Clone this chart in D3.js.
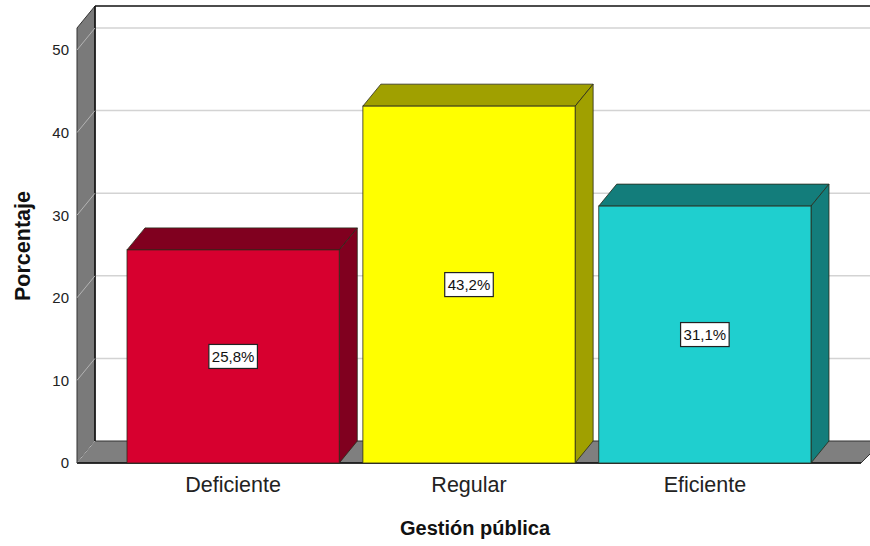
<!DOCTYPE html>
<html>
<head>
<meta charset="utf-8">
<script src="https://cdn.jsdelivr.net/npm/d3@7"></script>
<style>
  body { margin: 0; background: #fff; }
  svg { font-family: "Liberation Sans", Arial, sans-serif; }
</style>
</head>
<body>
<svg id="chart" width="870" height="546"></svg>
<script>
// data
var categories = ["Deficiente", "Regular", "Eficiente"];
var percents = [25.8, 43.2, 31.1];
var labels = ["25,8%", "43,2%", "31,1%"];
var yTicks = [0, 10, 20, 30, 40, 50];
var frontColors = ["#d7002f", "#ffff00", "#1fcfcf"];
var darkColors = ["#80001f", "#a0a000", "#137d7b"];

var svg = d3.select("#chart");

// front plane and depth offset
var left = 77, right = 861, bottom = 463;
var dx = 18, dy = -22;
var topFront = 28; // top of walls on the front plane

var x = d3.scaleBand()
    .domain(categories)
    .range([left, right])
    .paddingInner(0.1)
    .paddingOuter(0.212);

var y = d3.scaleLinear()
    .domain([0, 50])
    .range([bottom, 50]);

// back wall
svg.append("rect")
    .attr("x", left + dx)
    .attr("y", topFront + dy)
    .attr("width", 900)
    .attr("height", bottom - topFront)
    .attr("fill", "#fff");

// gridlines on back wall
svg.selectAll(".grid")
    .data(yTicks.filter(d => d > 0))
    .enter().append("line")
    .attr("x1", left + dx)
    .attr("x2", 900)
    .attr("y1", d => y(d) + dy)
    .attr("y2", d => y(d) + dy)
    .attr("stroke", "#d3d3d3")
    .attr("stroke-width", 1.5);

// back wall top edge
svg.append("line")
    .attr("x1", left + dx).attr("x2", 900)
    .attr("y1", topFront + dy).attr("y2", topFront + dy)
    .attr("stroke", "#111").attr("stroke-width", 1.5);

// left wall
svg.append("polygon")
    .attr("points", [[left, topFront], [left + dx, topFront + dy], [left + dx, bottom + dy], [left, bottom]].join(" "))
    .attr("fill", "#7a7a7a")
    .attr("stroke", "#333")
    .attr("stroke-width", 1);

// floor
svg.append("polygon")
    .attr("points", [[left, bottom], [left + dx, bottom + dy], [right + dx + 4, bottom + dy], [right, bottom]].join(" "))
    .attr("fill", "#7f7f7f")
    .attr("stroke", "#333")
    .attr("stroke-width", 1);

// back wall left edge
svg.append("line")
    .attr("x1", left + dx).attr("x2", left + dx)
    .attr("y1", topFront + dy).attr("y2", bottom + dy)
    .attr("stroke", "#111").attr("stroke-width", 1.5);

// gridlines across the left wall
svg.selectAll(".wallgrid")
    .data(yTicks)
    .enter().append("line")
    .attr("x1", left).attr("y1", d => y(d))
    .attr("x2", left + dx).attr("y2", d => y(d) + dy)
    .attr("stroke", "#b4b4b4")
    .attr("stroke-width", 1);

// floor front edge
svg.append("line")
    .attr("x1", left).attr("x2", right)
    .attr("y1", bottom).attr("y2", bottom)
    .attr("stroke", "#111").attr("stroke-width", 1.5);

// bars
var bars = svg.selectAll(".bar")
    .data(categories)
    .enter().append("g")
    .attr("class", "bar");

bars.each(function (c, i) {
    var g = d3.select(this);
    var x0 = x(c), w = x.bandwidth();
    var yv = y(percents[i]), y0 = y(0);

    g.append("polygon")
        .attr("points", [[x0, yv], [x0 + dx, yv + dy], [x0 + w + dx, yv + dy], [x0 + w, yv]].join(" "))
        .attr("fill", darkColors[i])
        .attr("stroke", "#2a2a1a").attr("stroke-width", 1).attr("stroke-linejoin", "round")
        .attr("stroke-opacity", 0.8);

    g.append("polygon")
        .attr("points", [[x0 + w, yv], [x0 + w + dx, yv + dy], [x0 + w + dx, y0 + dy], [x0 + w, y0]].join(" "))
        .attr("fill", darkColors[i])
        .attr("stroke", "#2a2a1a").attr("stroke-width", 1).attr("stroke-linejoin", "round")
        .attr("stroke-opacity", 0.8);

    g.append("rect")
        .attr("x", x0).attr("y", yv)
        .attr("width", w).attr("height", y0 - yv)
        .attr("fill", frontColors[i])
        .attr("stroke", "#2a2a1a").attr("stroke-width", 1)
        .attr("stroke-opacity", 0.8);

    // value label box
    var cx = x0 + w / 2, cy = (yv + y0) / 2;
    var t = g.append("text")
        .attr("x", cx).attr("y", cy)
        .attr("dy", "0.36em")
        .attr("text-anchor", "middle")
        .style("font-size", "15px")
        .attr("fill", "#111")
        .text(labels[i]);
    var bb = t.node().getBBox();
    g.insert("rect", "text")
        .attr("x", bb.x - 3).attr("y", cy - 12)
        .attr("width", bb.width + 6).attr("height", 24)
        .attr("fill", "#fff")
        .attr("stroke", "#222").attr("stroke-width", 1.2);
});

// y axis labels
var yAxis = svg.append("g")
    .attr("transform", "translate(" + left + ",0)")
    .call(d3.axisLeft(y).tickValues(yTicks).tickSize(0).tickPadding(8));
yAxis.select(".domain").remove();
yAxis.selectAll("text")
    .style("font-size", "15px")
    .style("font-family", "Liberation Sans, Arial, sans-serif")
    .attr("fill", "#222");

// x axis labels
var xAxis = svg.append("g")
    .attr("transform", "translate(0," + bottom + ")")
    .call(d3.axisBottom(x).tickSize(0).tickPadding(14));
xAxis.select(".domain").remove();
xAxis.selectAll("text")
    .style("font-size", "21.5px")
    .style("font-family", "Liberation Sans, Arial, sans-serif")
    .attr("fill", "#222");

// axis titles
svg.append("text")
    .attr("x", 475)
    .attr("y", 535)
    .attr("text-anchor", "middle")
    .style("font-size", "20px")
    .style("font-weight", "bold")
    .attr("fill", "#111")
    .text("Gestión pública");

svg.append("text")
    .attr("transform", "rotate(-90)")
    .attr("x", -246)
    .attr("y", 30)
    .attr("text-anchor", "middle")
    .style("font-size", "21.5px")
    .style("font-weight", "bold")
    .attr("fill", "#111")
    .text("Porcentaje");
</script>
</body>
</html>
